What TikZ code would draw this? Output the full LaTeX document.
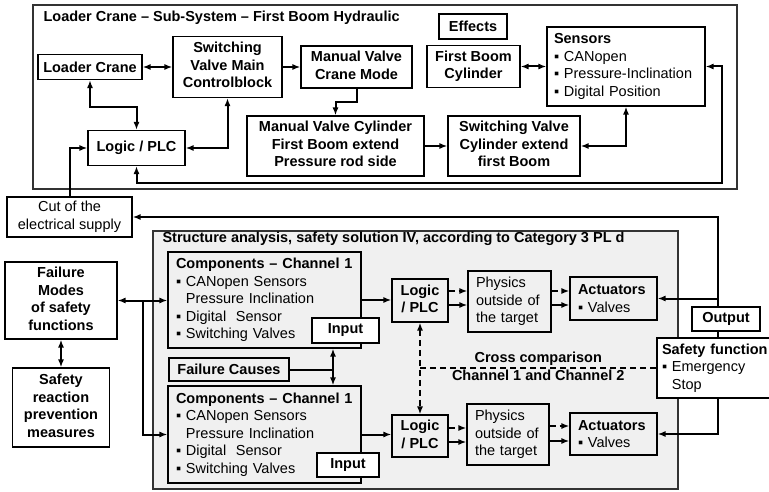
\documentclass[tikz,border=0pt]{standalone}
\usepackage{fontspec}
\setmainfont{Liberation Sans}
\usepackage{tikz}
\usetikzlibrary{arrows.meta}

\newcommand{\itm}{▪~}
\newcommand{\itmgap}{\phantom{▪~}}

\begin{document}
\begin{tikzpicture}[
    x=1pt, y=-1pt,
    >={Latex[length=8pt,width=6pt]},
    font=\fontsize{14.5}{17.5}\selectfont,
    block/.style={
		rectangle,
		draw=black, 
		line width=1.1pt,
		text centered,
		inner sep=0pt,
		fill=white
	},
	group/.style={
		block,
		fill=black!6
	},
	list/.style={
		group,
		align=left,
		inner xsep=8pt
	},
	frame/.style={
		rectangle,
		draw=black!80,
		line width=1.3pt
	},
	wire/.style={
		line width=2pt
	},
	cross/.style={
		line width=1.5pt,
		dash pattern=on 6pt off 4pt
	},
	tag/.style={
		inner sep=0pt
	}
  ]
  \useasboundingbox (0,0) rectangle (769,492);

  % Upper part: the crane sub-system
  \node [frame, minimum width=704pt, minimum height=184pt] (crane) at (385,97) {};
  \node [anchor=west] (craneTitle) at (40,18)
 {\textbf{Loader Crane – Sub-System – First Boom Hydraulic}};

  \node [block, minimum width=104pt, minimum height=25pt] (loader) at (90,67)
 {\textbf{Loader Crane}};

  \node [block, minimum width=109pt, minimum height=61pt] (switchMain) at (227.5,67)
 {%
 \begin{tabular}{c}
  \textbf{Switching}\\
  \textbf{Valve Main}\\
  \textbf{Controlblock}
 \end{tabular}
 };

  \node [block, minimum width=111pt, minimum height=42pt] (manualMode) at (356.5,67)
 {%
 \begin{tabular}{c}
  \textbf{Manual Valve}\\
  \textbf{Crane Mode}
 \end{tabular}
 };

  \node [block, minimum width=68pt, minimum height=25pt] (effects) at (473,26.5)
 {\textbf{Effects}};

  \node [block, minimum width=93pt, minimum height=42pt] (boomCyl) at (473.5,66.5)
 {%
 \begin{tabular}{c}
  \textbf{First Boom}\\
  \textbf{Cylinder}
 \end{tabular}
 };

  \node [list, fill=white, inner xsep=7pt, text width=144pt, minimum height=79pt] (sensors) at (626,66.5)
 {\textbf{Sensors}\\
  \itm CANopen\\
  \itm Pressure-Inclination\\
  \itm Digital Position};

  \node [block, minimum width=177pt, minimum height=60pt] (manualCyl) at (335.5,146)
 {%
 \begin{tabular}{c}
  \textbf{Manual Valve Cylinder}\\
  \textbf{First Boom extend}\\
  \textbf{Pressure rod side}
 \end{tabular}
 };

  \node [block, minimum width=132pt, minimum height=60pt] (switchCyl) at (514,146)
 {%
 \begin{tabular}{c}
  \textbf{Switching Valve}\\
  \textbf{Cylinder extend}\\
  \textbf{first Boom}
 \end{tabular}
 };

  \node [block, minimum width=97pt, minimum height=35pt] (logic) at (136.5,148)
 {\textbf{Logic / PLC}};

  \node [block, minimum width=125pt, minimum height=40pt] (cut) at (69.5,217)
 {%
 \begin{tabular}{c}
  Cut of the\\
  electrical supply
 \end{tabular}
 };

  \draw [wire,<->] (loader) -- (switchMain);
  \draw [wire,->] (switchMain) -- (manualMode);
  \draw [wire,->] (manualMode.south) -- ++(0,13) -| (manualCyl.north);
  \draw [wire,->] (manualCyl) -- (switchCyl);
  \draw [wire,<->] (switchCyl.east) -| (sensors.south);
  \draw [wire,<->] (boomCyl) -- (sensors);
  \coordinate (busR) at (722,183);
  \draw [wire,<->] (logic.south) |- (busR) |- (sensors.east);
  \draw [wire,<->] (loader.south) -- ++(0,27) -| (logic.north);
  \draw [wire,<->] (logic.east) -| (switchMain.south);
  \draw [wire,->] (cut.north) |- (logic.west);

  % Lower part: structure analysis
  \node [frame, fill=black!6, minimum width=525pt, minimum height=258pt] (structure) at (415.5,360) {};
  \node [anchor=west] (structTitle) at (159,239)
 {\textbf{Structure analysis, safety solution IV, according to Category 3 PL d}};

  \node [block, minimum width=112pt, minimum height=77pt] (fmodes) at (61,300.5)
 {%
 \begin{tabular}{c}
  \textbf{Failure}\\
  \textbf{Modes}\\
  \textbf{of safety}\\
  \textbf{functions}
 \end{tabular}
 };

  \node [block, minimum width=97pt, minimum height=79pt] (sreact) at (61,407.5)
 {%
 \begin{tabular}{c}
  \textbf{Safety}\\
  \textbf{reaction}\\
  \textbf{prevention}\\
  \textbf{measures}
 \end{tabular}
 };

  \node [list, text width=177pt, minimum height=96pt] (comp1) at (264.5,300)
 {\textbf{Components – Channel 1}\\
  \itm CANopen Sensors\\
  \itmgap Pressure Inclination\\
  \itm Digital\ \ Sensor\\
  \itm Switching Valves};
  \node [block, minimum width=67pt, minimum height=25pt] (in1) at (345.5,330.5)
 {\textbf{Input}};

  \node [group, minimum width=120pt, minimum height=23pt] (causes) at (229,369.5)
 {\textbf{Failure Causes}};

  \node [list, text width=177pt, minimum height=97pt] (comp2) at (264.5,434.5)
 {\textbf{Components – Channel 1}\\
  \itm CANopen Sensors\\
  \itmgap Pressure Inclination\\
  \itm Digital\ \ Sensor\\
  \itm Switching Valves};
  \node [block, minimum width=62pt, minimum height=24pt] (in2) at (348,465)
 {\textbf{Input}};

  \node [group, minimum width=56pt, minimum height=43pt] (logic1) at (420,300.5)
 {%
 \begin{tabular}{c}
  \textbf{Logic}\\
  \textbf{/ PLC}
 \end{tabular}
 };
  \node [list, text width=67pt, minimum height=61pt] (phys1) at (509.5,301.5)
 {Physics\\
  outside of\\
  the target};
  \node [list, text width=71pt, minimum height=43pt] (act1) at (613.5,298.5)
 {\textbf{Actuators}\\
  \itm Valves};

  \node [group, minimum width=56pt, minimum height=42pt] (logic2) at (420,436)
 {%
 \begin{tabular}{c}
  \textbf{Logic}\\
  \textbf{/ PLC}
 \end{tabular}
 };
  \node [list, text width=66pt, minimum height=61pt] (phys2) at (508,434.5)
 {Physics\\
  outside of\\
  the target};
  \node [list, text width=71pt, minimum height=42pt] (act2) at (613.5,434)
 {\textbf{Actuators}\\
  \itm Valves};

  \node [list, fill=white, inner xsep=5pt, text width=112pt, minimum height=60pt] (safety) at (718,368)
 {\textbf{Safety function}\\
  \itm Emergency\\
  \itmgap Stop};

  \draw [wire,<->] (fmodes.south) -- (fmodes.south |- sreact.north);
  \draw [wire,<->] (fmodes.east) -- (fmodes.east -| comp1.west);
  \coordinate (split) at (143,300.5);
  \draw [wire,->] (split) |- (comp2.west);
  \coordinate (jc) at (333,369.5);
  \draw [wire] (causes.east) -- (jc);
  \draw [wire,<->] (comp1.south -| jc) -- (comp2.north -| jc);
  \draw [wire,->] (comp1.east) -- (comp1.east -| logic1.west);
  \draw [wire,->] (comp2.east) -- (comp2.east -| logic2.west);

  \draw [cross,->] ([yshift=9.5pt]logic1.east) -- ([yshift=9.5pt]logic1.east -| phys1.west);
  \draw [wire,->] ([yshift=-4.5pt]logic1.east) -- ([yshift=-4.5pt]logic1.east -| phys1.west);
  \draw [cross,->] ([yshift=10.5pt]phys1.east) -- ([yshift=10.5pt]phys1.east -| act1.west);
  \draw [wire,->] ([yshift=-3.5pt]phys1.east) -- ([yshift=-3.5pt]phys1.east -| act1.west);
  \draw [cross,->] ([yshift=8pt]logic2.east) -- ([yshift=8pt]logic2.east -| phys2.west);
  \draw [wire,->] ([yshift=-6pt]logic2.east) -- ([yshift=-6pt]logic2.east -| phys2.west);
  \draw [cross,->] ([yshift=8.5pt]phys2.east) -- ([yshift=8.5pt]phys2.east -| act2.west);
  \draw [wire,->] ([yshift=-6.5pt]phys2.east) -- ([yshift=-6.5pt]phys2.east -| act2.west);

  \draw [cross,<->] (logic1) -- (logic2);
  \draw [cross] (logic1.south |- safety.west) -- node [tag]
 {%
 \begin{tabular}{c}
  \textbf{Cross comparison}\\[0.5pt]
  \textbf{Channel 1 and Channel 2}
 \end{tabular}
 } (safety.west);

  % Safety function back to the actuators and the supply
  \coordinate (tapR) at (718,217);
  \draw [wire,->] (safety.north -| tapR) -- (tapR) -- (cut.east);
  \draw [wire,->] (act1.east -| tapR) -- (act1.east);
  \draw [wire,->] (safety.south -| tapR) |- (act2.east);

  \node [block, minimum width=68pt, minimum height=24pt] (output) at (726,319)
 {\textbf{Output}};

\end{tikzpicture}
\end{document}
